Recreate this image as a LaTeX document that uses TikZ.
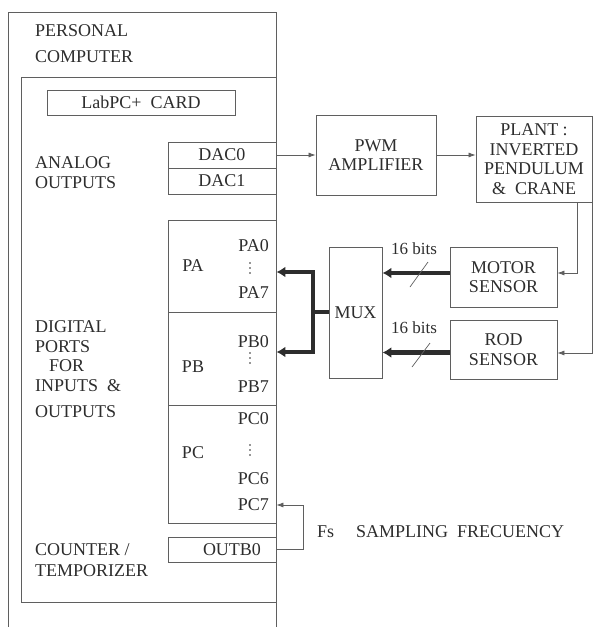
\documentclass[tikz,border=0pt]{standalone}
\usepackage{fontspec}
\setmainfont{Liberation Serif}
\usetikzlibrary{arrows.meta,calc}
\definecolor{ink}{RGB}{45,45,45}
\definecolor{linec}{RGB}{95,95,95}
\begin{document}
\begin{tikzpicture}[x=1pt,y=-1pt,
  box/.style={draw=linec, line width=0.8pt, rectangle, inner sep=0pt, text=ink, align=center, font=\fontsize{18}{19.5}\selectfont},
  lbl/.style={text=ink, inner sep=0pt, font=\fontsize{18}{19.5}\selectfont},
  dotmark/.style={circle, fill=ink, inner sep=0pt, minimum size=1.8pt},
  sig/.style={draw=linec, line width=0.7pt, -{Latex[length=7pt,width=5pt]}},
  bus/.style={draw=ink, line width=4.5pt, line join=miter},
  busarrow/.style={bus, {Latex[length=9pt,width=11pt]}-{Latex[length=9pt,width=11pt]}},
  busone/.style={bus, -{Latex[length=9pt,width=11pt]}}
]
\useasboundingbox (0,0) rectangle (594,627);
% personal computer outer frame (open at bottom)
\draw[linec, line width=0.8pt] (8,627) -- (8,12) -- (276,12) -- (276,627);
% LabPC+ card frame
\draw[linec, line width=0.8pt] (276,77) -- (21,77) -- (21,602) -- (276,602);
\node[lbl, anchor=west] (pc1) at (35,31) {PERSONAL};
\node[lbl, anchor=west] (pc2) at (35,56.5) {COMPUTER};
\node[box, minimum width=188pt, minimum height=25pt] (card) at (141,102.5) {LabPC+~ CARD};

\node[lbl, anchor=west] (an1) at (35,163) {ANALOG};
\node[lbl, anchor=west] (an2) at (35,182.5) {OUTPUTS};
\node[box, minimum width=108pt, minimum height=26pt] (dac0) at (222,155) {DAC0};
\node[box, minimum width=108pt, minimum height=26pt] (dac1) at (222,181) {DAC1};

\node[lbl, anchor=west] (dg1) at (35,327) {DIGITAL};
\node[lbl, anchor=west] (dg2) at (35,347) {PORTS};
\node[lbl, anchor=west] (dg3) at (49,366) {FOR};
\node[lbl, anchor=west] (dg4) at (35,386) {INPUTS~ \&};
\node[lbl, anchor=west] (dg5) at (35,412) {OUTPUTS};

\node[box, minimum width=108pt, minimum height=92pt] (pa) at (222,266) {};
\node[box, minimum width=108pt, minimum height=93pt] (pb) at (222,358.5) {};
\node[box, minimum width=108pt, minimum height=118pt] (pc) at (222,464) {};
\node[lbl] (pal) at (193,266) {PA};
\node[lbl, anchor=east] (pa0) at (269,246) {PA0};
\foreach \yy [count=\i] in {263,268,273} \node[dotmark] (pad\i) at (250,\yy) {};
\node[lbl, anchor=east] (pa7) at (269,293) {PA7};
\node[lbl] (pbl) at (193,367) {PB};
\node[lbl, anchor=east] (pb0) at (269,342) {PB0};
\foreach \yy [count=\i] in {353,358,363} \node[dotmark] (pbd\i) at (250,\yy) {};
\node[lbl, anchor=east] (pb7) at (269,387) {PB7};
\node[lbl] (pcl) at (193,453) {PC};
\node[lbl, anchor=east] (pc0) at (269,419) {PC0};
\foreach \yy [count=\i] in {445,450,455} \node[dotmark] (pcd\i) at (250,\yy) {};
\node[lbl, anchor=east] (pc6) at (269,479) {PC6};
\node[lbl, anchor=east] (pc7) at (269,505) {PC7};

\node[lbl, anchor=west] (ct1) at (35,550) {COUNTER /};
\node[lbl, anchor=west] (ct2) at (35,571) {TEMPORIZER};
\node[box, minimum width=108pt, minimum height=25pt] (outb) at (222,549.5) {};
\node[lbl] (outbl) at (232,550) {OUTB0};

% right side blocks
\node[box, minimum width=120pt, minimum height=80pt] (pwm) at (376,155) {PWM\\AMPLIFIER};
\node[box, minimum width=116pt, minimum height=86pt] (plant) at (534,159) {PLANT :\\INVERTED\\PENDULUM\\\&~ CRANE};
\node[box, minimum width=53pt, minimum height=131pt] (mux) at (355.5,312.5) {MUX};
\node[box, minimum width=107pt, minimum height=60pt] (motor) at (503.5,277) {MOTOR\\SENSOR};
\node[box, minimum width=107pt, minimum height=59pt] (rod) at (503.5,349.5) {ROD\\SENSOR};

% analog path
\draw[sig] (dac0.east) -- (pwm.west);
\draw[sig] (pwm.east) -- (pwm.east -| plant.west);
% plant to sensors
\draw[sig] ([xshift=-15pt]plant.south east) |- ([yshift=4pt]motor.east);
\draw[sig] (plant.south east) |- ([yshift=-3.5pt]rod.east);
% sensors to MUX
\draw[busone] ([yshift=4pt]motor.west) -- ([yshift=4pt]motor.west -| mux.east);
\draw[busone] ([yshift=-3pt]rod.west) -- ([yshift=-3pt]rod.west -| mux.east);
\draw[linec, line width=0.7pt] (410,287) -- (428,262);
\draw[linec, line width=0.7pt] (412,367) -- (430,343);
\node[lbl, font=\fontsize{17}{18}\selectfont] (b1) at (414,249) {16 bits};
\node[lbl, font=\fontsize{17}{18}\selectfont] (b2) at (414,328) {16 bits};
% MUX to ports
\coordinate (jn) at (313,312);
\coordinate (jt) at (313,272);
\coordinate (jb) at (313,352);
\draw[bus] (mux.west |- jn) -- (jn);
\draw[busarrow] (jt -| pa.east) -- (jt) -- (jb) -- (jb -| pb.east);
% sampling frequency feedback
\coordinate (fbc) at (303,549.5);
\draw[sig] (outb.east) -- (fbc) |- (pc7 -| pc.east);
\node[lbl, anchor=west] (fs) at (317,532) {Fs\hspace{22pt}SAMPLING~ FRECUENCY};
\end{tikzpicture}
\end{document}
